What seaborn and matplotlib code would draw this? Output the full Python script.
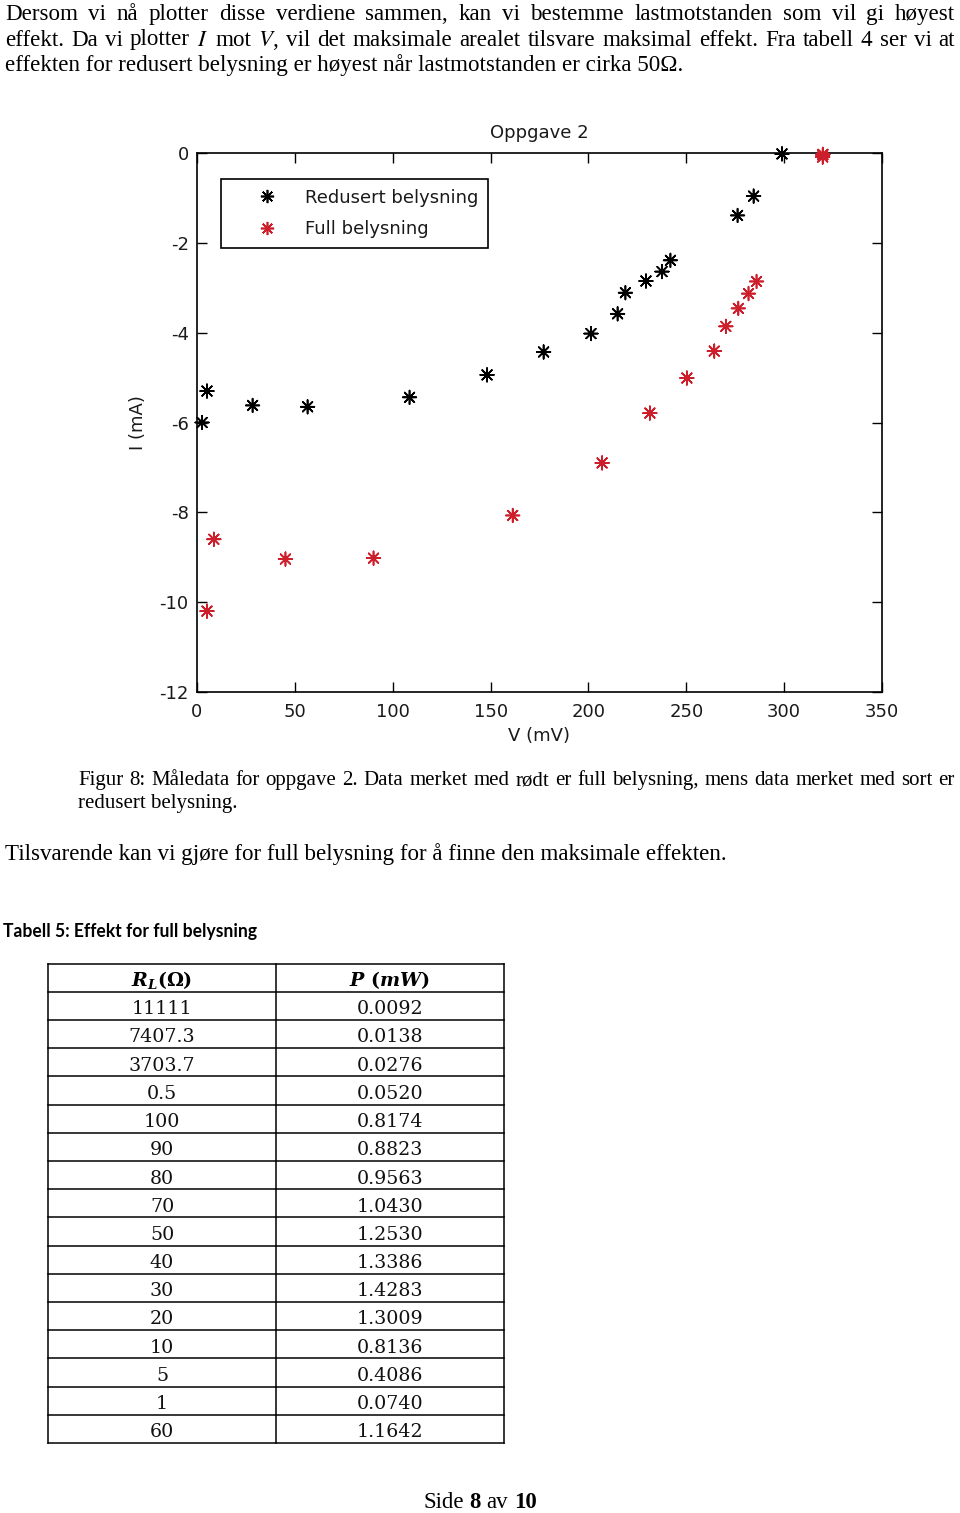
import numpy as np
import pandas as pd
import matplotlib
matplotlib.use("Agg")
import matplotlib.pyplot as plt
import seaborn as sns
from matplotlib.lines import Line2D

# ---------------- data ----------------
series_names = ["Redusert belysning", "Full belysning"]
V_redusert = [2.6, 5.1, 28.4, 56.5, 108.6, 148.2, 177.1, 201.3, 214.9, 218.9,
              229.4, 237.6, 241.9, 276.2, 284.4, 298.9]
I_redusert = [-6.00, -5.30, -5.62, -5.65, -5.44, -4.94, -4.43, -4.02, -3.58, -3.11,
              -2.85, -2.64, -2.39, -1.39, -0.96, -0.02]
V_full = [319.8, 319.7, 319.7, 5.1, 285.9, 281.8, 276.6, 270.2, 250.3, 231.4,
          207.0, 161.3, 90.2, 45.2, 8.6, 264.3]
I_full = [-0.03, -0.04, -0.09, -10.20, -2.86, -3.13, -3.46, -3.86, -5.01, -5.79,
          -6.90, -8.07, -9.02, -9.04, -8.60, -4.41]
x_ticks = [0, 50, 100, 150, 200, 250, 300, 350]
y_ticks = [-12, -10, -8, -6, -4, -2, 0]

table_R = ["11111", "7407.3", "3703.7", "0.5", "100", "90", "80", "70",
           "50", "40", "30", "20", "10", "5", "1", "60"]
table_P = ["0.0092", "0.0138", "0.0276", "0.0520", "0.8174", "0.8823", "0.9563",
           "1.0430", "1.2530", "1.3386", "1.4283", "1.3009", "0.8136", "0.4086",
           "0.0740", "1.1642"]

para1 = ["Dersom vi n\u00e5 plotter disse verdiene sammen, kan vi bestemme lastmotstanden som vil gi h\u00f8yest",
         "effekt. Da vi plotter $I$ mot $V$, vil det maksimale arealet tilsvare maksimal effekt.  Fra tabell 4 ser vi at",
         "effekten for redusert belysning er h\u00f8yest n\u00e5r lastmotstanden er cirka 50\u03a9."]
caption = ["Figur 8: M\u00e5ledata for oppgave 2. Data merket med r\u00f8dt er full belysning, mens data merket med sort er",
           "redusert belysning."]
para2 = "Tilsvarende kan vi gj\u00f8re for full belysning for \u00e5 finne den maksimale effekten."
table_title = "Tabell 5: Effekt for full belysning"
footer_runs = [("Side", "normal"), ("8", "bold"), ("av", "normal"), ("10", "bold")]

# ---------------- style ----------------
sns.set_theme(style="white")
plt.rcParams["font.family"] = ["DejaVu Sans"]
plt.rcParams["mathtext.fontset"] = "stix"
plt.rcParams["mathtext.it"] = "DejaVu Serif:italic:bold"
plt.rcParams["mathtext.rm"] = "DejaVu Serif:bold"
plt.rcParams["mathtext.bf"] = "DejaVu Serif:bold"

RED = "#cc1f2b"
CHART_TXT = "#1a1a1a"
SERIF = "Liberation Serif"

fig = plt.figure(figsize=(9.6, 15.13), dpi=100)
fig.patch.set_facecolor("white")

page = fig.add_axes([0, 0, 1, 1])
page.set_xlim(0, 960)
page.set_ylim(1513, 0)
page.axis("off")
page.set_zorder(0)

# ---------------- chart ----------------
ax = fig.add_axes([197 / 960, 1 - 692 / 1513, 685 / 960, 539 / 1513])
ax.set_zorder(1)
df = pd.DataFrame({
    "V": V_redusert + V_full,
    "I": I_redusert + I_full,
    "Serie": [series_names[0]] * len(V_redusert) + [series_names[1]] * len(V_full),
})
sns.scatterplot(data=df, x="V", y="I", hue="Serie",
                palette={series_names[0]: "black", series_names[1]: RED},
                marker=(8, 2, 0), s=95, linewidth=1.2, legend=False, ax=ax,
                clip_on=False, zorder=3)

ax.set_xlim(0, 350)
ax.set_ylim(-12, 0)
ax.set_xticks(x_ticks)
ax.set_yticks(y_ticks)
ax.set_xticklabels([str(t) for t in x_ticks])
ax.set_yticklabels([str(t) for t in y_ticks])
ax.grid(False)
ax.tick_params(direction="in", top=True, right=True, bottom=True, left=True,
               length=7, width=1.0, labelsize=13, pad=6, labelcolor=CHART_TXT,
               color="black")
ax.tick_params(axis="x", pad=8)
for sp in ax.spines.values():
    sp.set_visible(True)
    sp.set_color("black")
    sp.set_linewidth(1.2)
ax.set_xlabel("V (mV)", fontsize=13, labelpad=4, color=CHART_TXT)
ax.set_ylabel("I (mA)", fontsize=13, labelpad=9, color=CHART_TXT)
ax.set_title("Oppgave 2", fontsize=13, pad=11, color=CHART_TXT)

handles = [Line2D([], [], marker=(8, 2, 0), color=c, linestyle="none",
                  markersize=9.5, markeredgewidth=1.2)
           for c in ["black", RED]]
leg = ax.legend(handles, series_names, loc="upper left",
                bbox_to_anchor=(0.035, 0.952), borderaxespad=0,
                fancybox=False, edgecolor="black", framealpha=1, fontsize=13,
                handlelength=4.0, handletextpad=0.1, borderpad=0.55,
                labelspacing=0.75)
leg.get_frame().set_linewidth(1.2)
for t in leg.get_texts():
    t.set_color(CHART_TXT)

# ---------------- page text ----------------
renderer = fig.canvas.get_renderer()


def width_of(t):
    return t.get_window_extent(renderer=renderer).width


def fitted_size(text, target, base=15, **kw):
    t = page.text(0, 0, text, fontsize=base, **kw)
    w = width_of(t)
    t.remove()
    return base * target / w


def justified(line, y, x0, x1, size, **kw):
    words = line.split()
    ts = [page.text(x0, y, w, fontsize=size, va="baseline", ha="left", **kw)
          for w in words]
    ws = [width_of(t) for t in ts]
    gap = (x1 - x0 - sum(ws)) / (len(ts) - 1)
    x = x0
    for t, w in zip(ts, ws):
        t.set_x(x)
        x += w + gap


body_kw = dict(family=SERIF, color="black", math_fontfamily="stix")
body_size = fitted_size(para1[2], 681, **body_kw)
justified(para1[0], 20, 5, 955, body_size, **body_kw)
justified(para1[1], 45.5, 5, 955, body_size, **body_kw)
page.text(5, 71, para1[2], fontsize=body_size, va="baseline", ha="left", **body_kw)

cap_size = fitted_size(caption[1], 160, **body_kw)
justified(caption[0], 785, 78, 955, cap_size, **body_kw)
page.text(78, 808, caption[1], fontsize=cap_size, va="baseline", ha="left", **body_kw)

p2_size = fitted_size(para2, 724, **body_kw)
page.text(5, 860, para2, fontsize=p2_size, va="baseline", ha="left", **body_kw)

tt_kw = dict(family="Lato", fontweight="bold", color="black")
tt_size = fitted_size(table_title, 254, **tt_kw)
page.text(3, 937, table_title, fontsize=tt_size, va="baseline", ha="left", **tt_kw)

# ---------------- table ----------------
col_x = [48, 276, 504]
col_c = [162, 390]
top = 963.5
row_h = 28.2
nrows = len(table_R) + 1
for i in range(nrows + 1):
    yy = top + i * row_h
    page.plot([col_x[0], col_x[-1]], [yy, yy], color="black", lw=1.1,
              solid_capstyle="projecting")
for xx in col_x:
    page.plot([xx, xx], [top, top + nrows * row_h], color="black", lw=1.1,
              solid_capstyle="projecting")

cell_size = 13.7
page.text(col_c[0], top + row_h / 2 + 8.5, r"$R_L(\Omega)$", fontsize=cell_size,
          ha="center", va="baseline", math_fontfamily="custom", color="black")
page.text(col_c[1], top + row_h / 2 + 8.5, r"$P\ (mW)$", fontsize=cell_size,
          ha="center", va="baseline", math_fontfamily="custom", color="black")
for i, (r, p) in enumerate(zip(table_R, table_P)):
    yb = top + (i + 1.5) * row_h + 8.5
    page.text(col_c[0], yb, r, fontsize=cell_size, family="DejaVu Serif",
              ha="center", va="baseline", color="#111111")
    page.text(col_c[1], yb, p, fontsize=cell_size, family="DejaVu Serif",
              ha="center", va="baseline", color="#111111")

# ---------------- footer ----------------
def runs_width(size):
    ts = [page.text(0, 0, s, fontsize=size, family=SERIF, fontweight=wt)
          for s, wt in footer_runs]
    ws = [width_of(t) for t in ts]
    for t in ts:
        t.remove()
    return sum(ws) + size * 100 / 72 * 0.25 * (len(ts) - 1)


foot_size = 15 * 114 / runs_width(15)
fts = [page.text(0, 1508, s, fontsize=foot_size, family=SERIF, fontweight=wt,
                 va="baseline", ha="left", color="black") for s, wt in footer_runs]
fws = [width_of(t) for t in fts]
space = foot_size * 100 / 72 * 0.25
total = sum(fws) + space * (len(fts) - 1)
x = 480 - total / 2
for t, w in zip(fts, fws):
    t.set_x(x)
    x += w + space

fig.savefig("out.png", dpi=100, facecolor="white")
